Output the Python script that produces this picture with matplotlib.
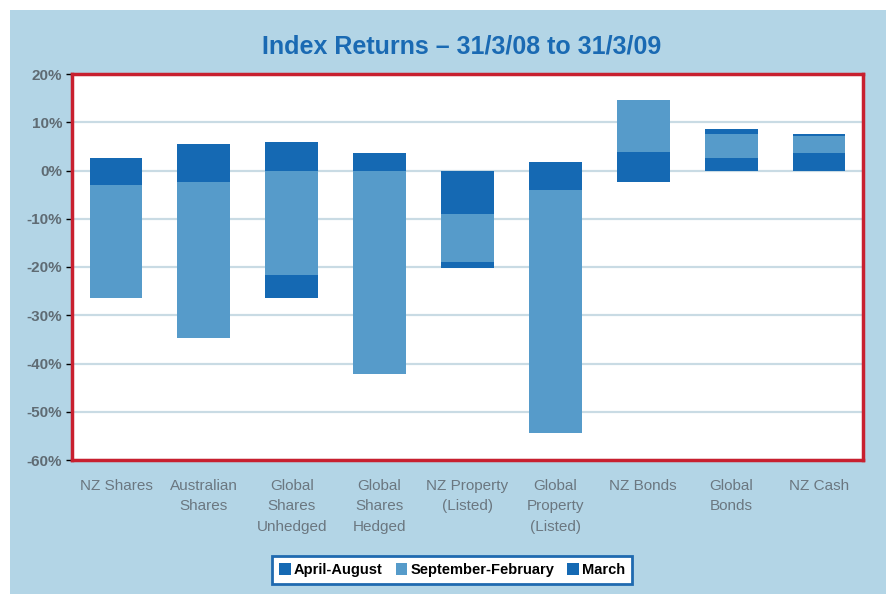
import numpy as np
import matplotlib
matplotlib.use('Agg')
import matplotlib.pyplot as plt
from matplotlib.patches import Rectangle

categories = ['NZ Shares', 'Australian\nShares', 'Global\nShares\nUnhedged', 'Global\nShares\nHedged',
              'NZ Property\n(Listed)', 'Global\nProperty\n(Listed)', 'NZ Bonds', 'Global\nBonds', 'NZ Cash']
apr_aug = [-3.1, -2.3, 6.0, 3.7, -9.1, -4.1, 3.9, 2.5, 3.7]
sep_feb = [-23.3, -32.5, -21.7, -42.2, -9.9, -50.3, 10.8, 5.0, 3.5]
march = [2.5, 5.4, -4.8, 0.0, -1.3, 1.7, -2.3, 1.2, 0.4]
series_names = ['April-August', 'September-February', 'March']
yticks = [20, 10, 0, -10, -20, -30, -40, -50, -60]

DARK = '#1569b3'
LIGHT = '#569bca'
BG = '#b3d5e6'

plt.rcParams['font.family'] = ['Liberation Sans', 'DejaVu Sans']

fig = plt.figure(figsize=(8.86, 5.94), dpi=100, facecolor='white')
fig.patches.append(Rectangle((10 / 886, 0), 1, (594 - 10) / 594, transform=fig.transFigure,
                             facecolor=BG, edgecolor='none', zorder=-10))
ax = fig.add_axes([72 / 886, 134 / 594, 791 / 886, 386 / 594])
ax.set_facecolor('white')

x = np.arange(len(categories))
pos_base = np.zeros(len(categories))
neg_base = np.zeros(len(categories))
# Excel-style stacking: positives stack up from 0, negatives stack down from 0
for vals, color, name in zip([apr_aug, sep_feb, march], [DARK, LIGHT, DARK], series_names):
    vals = np.array(vals)
    bottoms = np.where(vals >= 0, pos_base, neg_base)
    ax.bar(x, vals, bottom=bottoms, width=0.6, color=color, label=name, zorder=3)
    pos_base = pos_base + np.where(vals >= 0, vals, 0)
    neg_base = neg_base + np.where(vals < 0, vals, 0)

ax.set_xlim(-0.5, len(categories) - 0.5)
ax.set_ylim(-60, 20)
ax.set_yticks(yticks)
ax.set_yticklabels([f'{v}%' for v in yticks], fontsize=11, fontweight='bold', color='#5f6b73')
ax.set_xticks(x)
ax.set_xticklabels(categories, fontsize=11, color='#6b7780', linespacing=1.55, va='top')
ax.tick_params(axis='x', length=0, pad=14)
ax.tick_params(axis='y', length=4, width=1, color='black', pad=3)
ax.grid(axis='y', color='#c9dbe4', linewidth=1.6, zorder=0)
for sp in ax.spines.values():
    sp.set_color('#c8202f')
    sp.set_linewidth(2.5)

fig.text(462 / 886, 1 - 46 / 594, 'Index Returns \u2013 31/3/08 to 31/3/09', ha='center', va='center',
         fontsize=18, fontweight='bold', color='#1a6ab3')

handles, labels = ax.get_legend_handles_labels()
leg = fig.legend(handles, labels, loc='center', bbox_to_anchor=(452 / 886, 1 - 570 / 594), ncol=3,
                 frameon=True, fancybox=False, edgecolor='#1f6ab0', facecolor='white', framealpha=1,
                 prop={'weight': 'bold', 'size': 10.5}, handlelength=0.8, handleheight=0.8,
                 handletextpad=0.2, columnspacing=0.9, borderpad=0.5)
leg.get_frame().set_linewidth(2)

fig.savefig('out.png', dpi=100, facecolor=fig.get_facecolor())
